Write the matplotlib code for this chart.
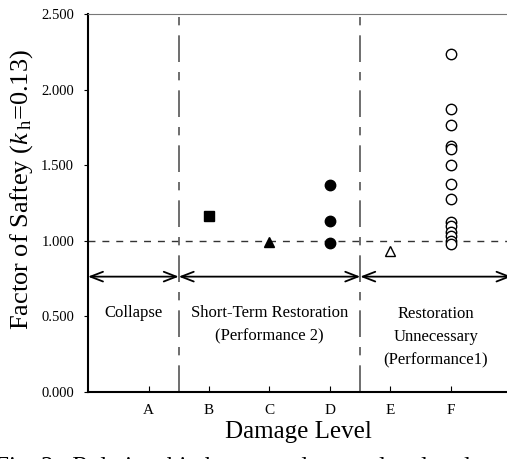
import matplotlib
matplotlib.use("Agg")
import matplotlib.pyplot as plt

plt.rcParams['font.family'] = ['Liberation Serif', 'DejaVu Serif']
plt.rcParams['mathtext.fontset'] = 'custom'
plt.rcParams['mathtext.rm'] = 'Liberation Serif'
plt.rcParams['mathtext.it'] = 'Liberation Serif:italic'

categories = ['A', 'B', 'C', 'D', 'E', 'F']
b_vals = [1.165]
c_vals = [0.99]
d_vals = [1.37, 1.134, 0.985]
e_vals = [0.93]
f_vals = [2.235, 1.874, 1.763, 1.625, 1.61, 1.50, 1.377, 1.278,
          1.125, 1.095, 1.06, 1.03, 1.0, 0.98]
yticks = [0.0, 0.5, 1.0, 1.5, 2.0, 2.5]

fig = plt.figure(figsize=(5.07, 4.59), dpi=100)
ax = fig.add_axes([88 / 507, 1 - 392 / 459, (511.5 - 88) / 507, 378 / 459])

pos = {c: i + 1 for i, c in enumerate(categories)}
ax.plot([pos['B']] * len(b_vals), b_vals, 's', color='black', ms=7, zorder=5)
ax.plot([pos['C']] * len(c_vals), c_vals, '^', color='black', ms=7.5, zorder=5)
ax.plot([pos['D']] * len(d_vals), d_vals, 'o', color='black', ms=7.5, zorder=5)
ax.plot([pos['E']] * len(e_vals), e_vals, '^', mfc='white', mec='black', mew=1.0, ms=7.5, zorder=5)
ax.plot([pos['F']] * len(f_vals), f_vals, 'o', mfc='white', mec='black', mew=1.0, ms=7.5, zorder=5)

ax.set_xlim(0, 7)
ax.set_ylim(0, 2.5)

# reference lines
ax.axhline(1.0, color='#333333', lw=1.0, ls=(0, (5, 5)), zorder=1)
for xv in (1.5, 4.5):
    ax.axvline(xv, color='#555555', lw=1.2, ls=(0, (16, 6, 5, 6)), zorder=1)

# arrows
ya = 0.763
for x0, x1 in ((0, 1.5), (1.5, 4.5), (4.5, 7)):
    ax.annotate('', xy=(x1, ya), xytext=(x0, ya),
                arrowprops=dict(arrowstyle='<->,head_length=0.9,head_width=0.35',
                                lw=1.3, color='black', shrinkA=0, shrinkB=0))

fs = 12
ax.text(0.75, 0.52, 'Collapse', ha='center', va='center', fontsize=fs)
ax.text(3.0, 0.52, 'Short-Term Restoration', ha='center', va='center', fontsize=fs)
ax.text(3.0, 0.365, '(Performance 2)', ha='center', va='center', fontsize=fs)
ax.text(5.75, 0.515, 'Restoration', ha='center', va='center', fontsize=fs)
ax.text(5.75, 0.365, 'Unnecessary', ha='center', va='center', fontsize=fs)
ax.text(5.75, 0.21, '(Performance1)', ha='center', va='center', fontsize=fs)

ax.set_xticks([pos[c] for c in categories])
ax.set_xticklabels(categories, fontsize=11)
ax.tick_params(axis='x', direction='in', length=4, pad=9, width=0.8)
ax.set_yticks(yticks)
ax.set_yticklabels([f'{v:.3f}' for v in yticks], fontsize=10.5)
ax.tick_params(axis='y', direction='out', length=3, pad=7, width=0.8)

ax.spines['right'].set_visible(False)
ax.spines['top'].set_color('#777777')
ax.spines['left'].set_linewidth(1.5)
ax.spines['bottom'].set_linewidth(1.5)

fig.text(22 / 507, 1 - 190 / 459, r'Factor of Saftey ($k\,_{\mathrm{h}}$=0.13)',
         rotation=90, ha='center', va='center', fontsize=19)
fig.text(298 / 507, 1 - 432 / 459, 'Damage Level', ha='center', va='center', fontsize=18)
fig.text(-0.01, 1 - 468 / 459, 'Fig. 3   Relationship between damage level and categorization of performance',
         ha='left', va='center', fontsize=18)

fig.savefig('out.png', dpi=100)
